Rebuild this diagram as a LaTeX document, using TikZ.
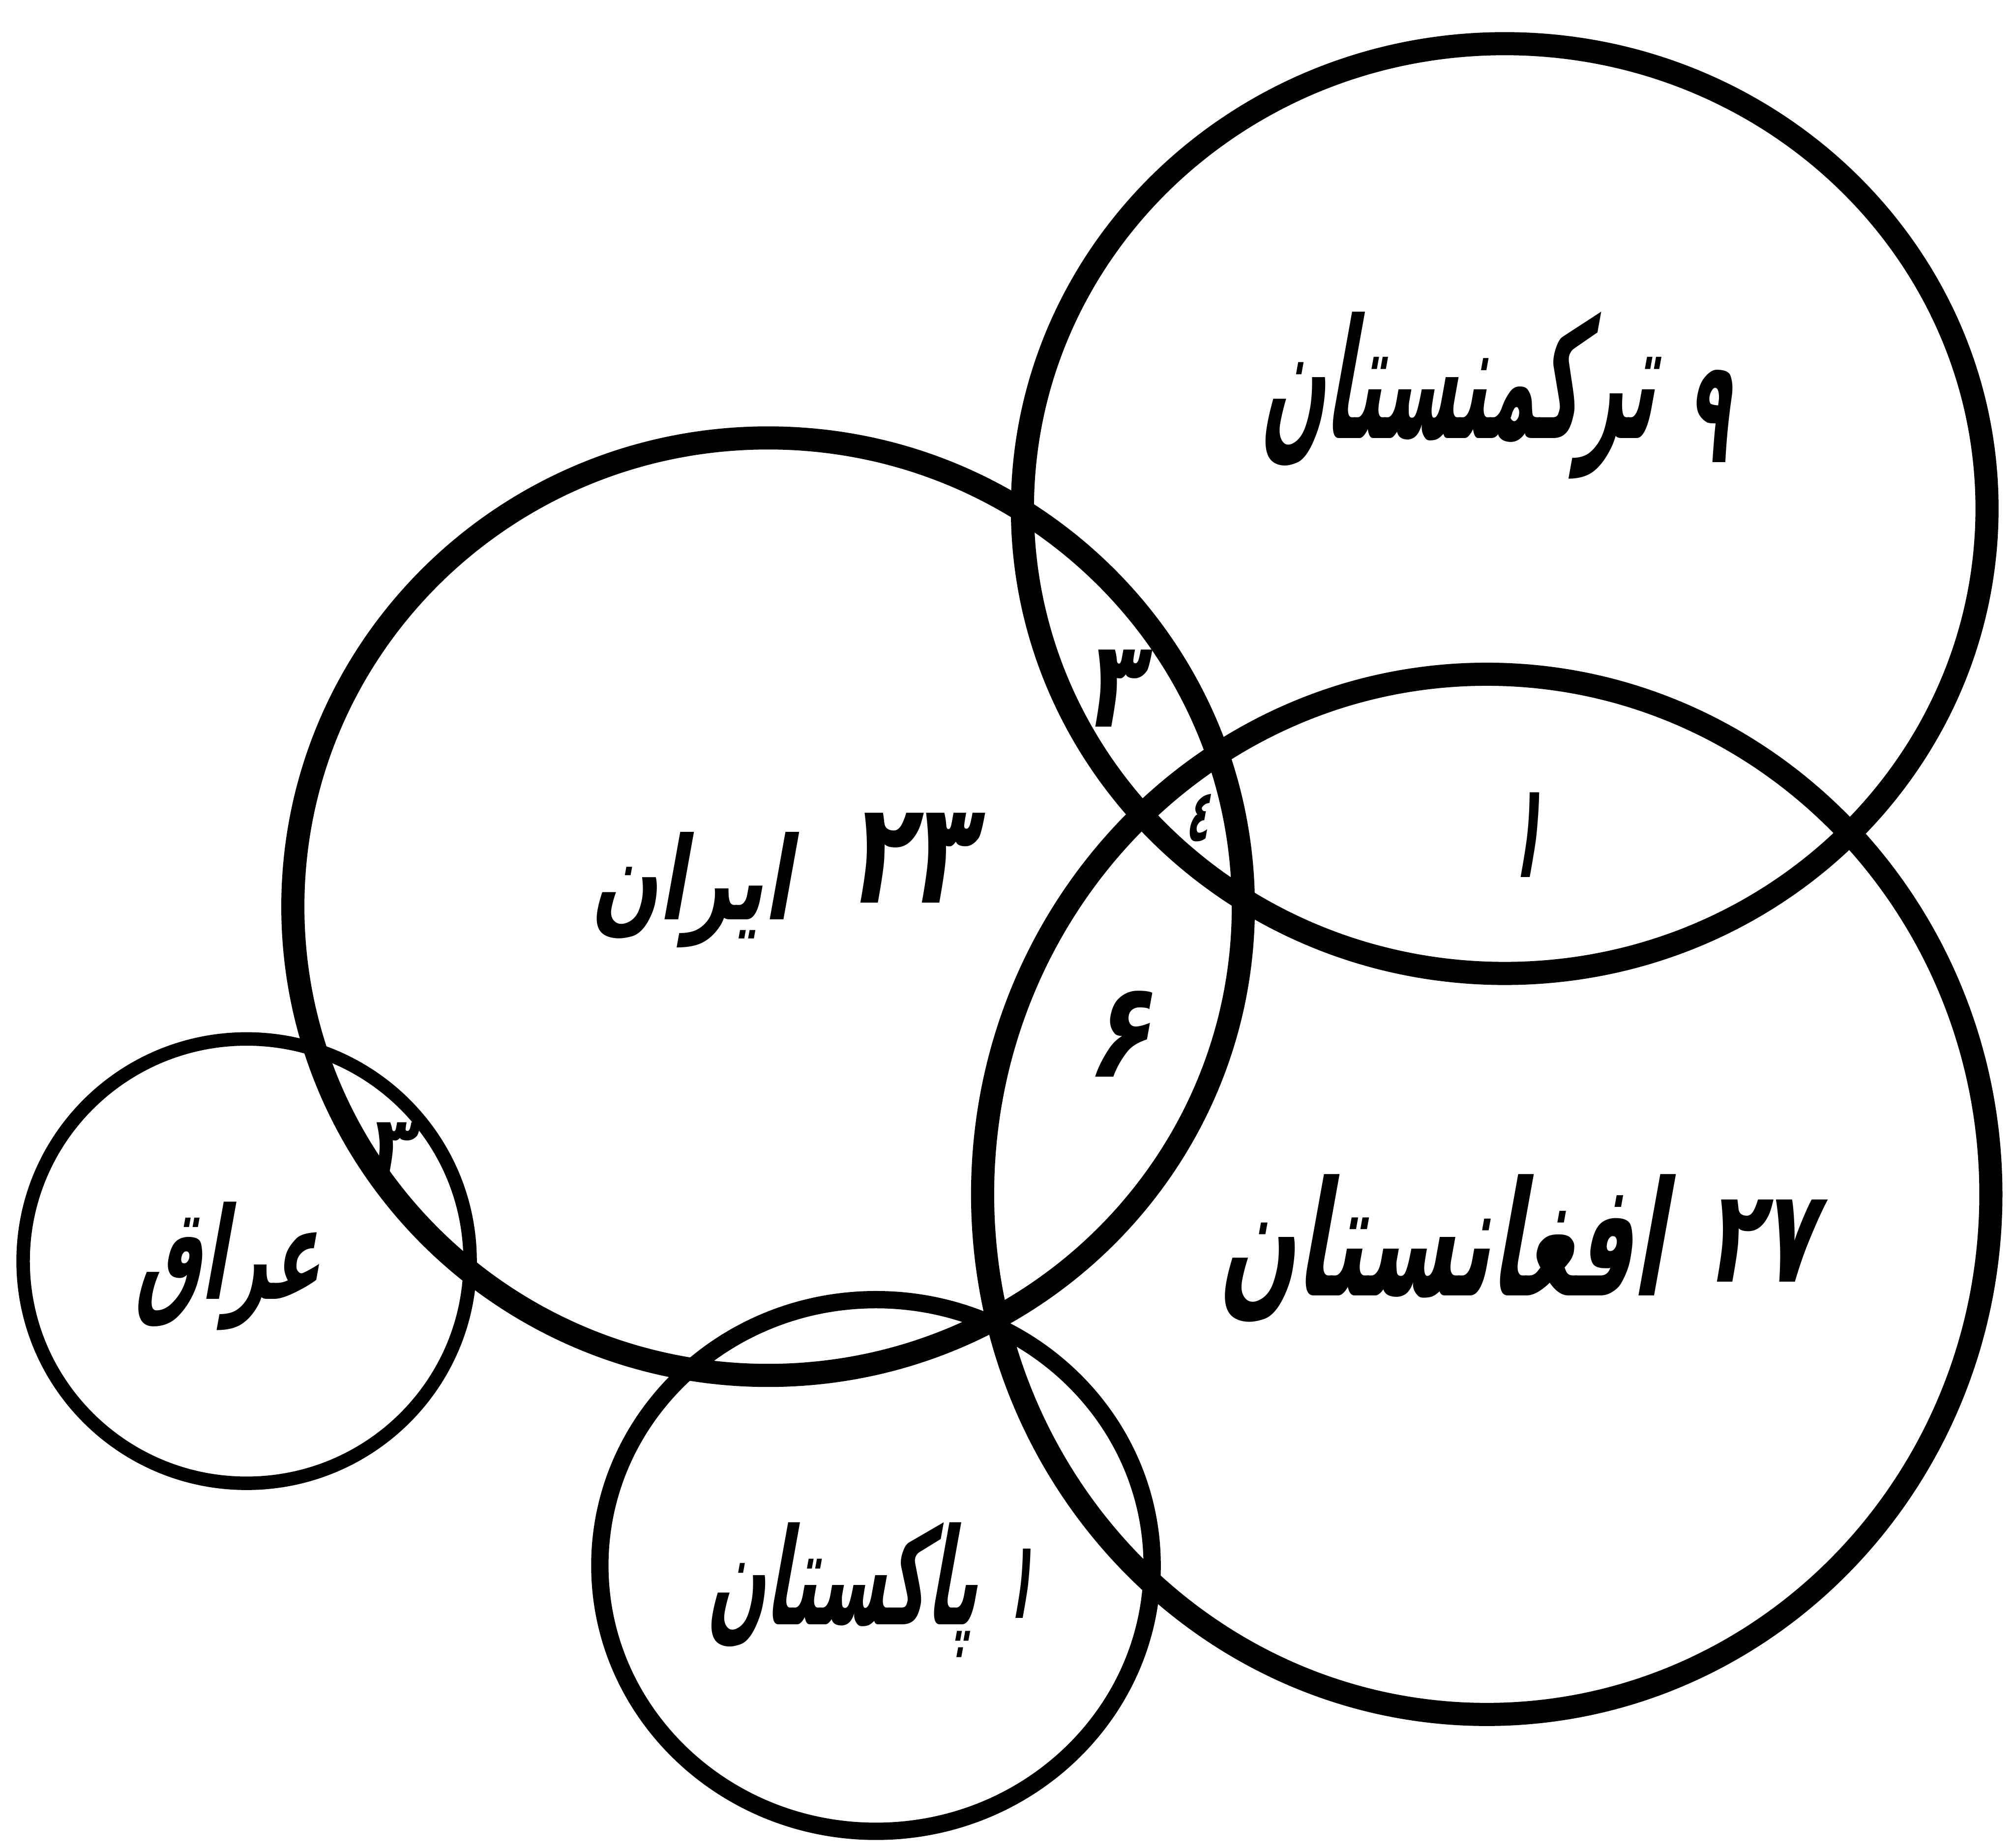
\documentclass[tikz,border=0pt]{standalone}
\usepackage{fontspec}
\usepackage{graphicx}
\newfontfamily\fa[Script=Arabic]{DejaVu Sans}
\TeXXeTstate=1
% name label: width, total height (mm), text
\newcommand{\nm}[3]{\resizebox*{#1mm}{#2mm}{\fa\bfseries\beginR #3\endR}}
% number label: width, height (mm), digits
\newcommand{\nb}[3]{\resizebox*{#1mm}{#2mm}{\fa\bfseries #3}}
\begin{document}
\begin{tikzpicture}[x=0.1mm,y=-0.1mm,
  bigring/.style={draw=black,line width=1.8mm},
  pakring/.style={draw=black,line width=1.35mm},
  iraqring/.style={draw=black,line width=1.05mm},
  lbl/.style={inner sep=0pt,outer sep=0pt,xslant=0.18}]
\useasboundingbox[fill=white] (0,0) rectangle (1568,1439);
% circles
\draw[bigring] (1171.5,396) ellipse [x radius=375.5, y radius=362];   % Turkmenistan
\draw[bigring] (598,706) ellipse [x radius=370, y radius=365];        % Iran
\draw[bigring] (1157.5,930) ellipse [x radius=392.5, y radius=405];   % Afghanistan
\draw[iraqring] (192,982) ellipse [x radius=174, y radius=173];       % Iraq
\draw[pakring] (682,1219) ellipse [x radius=215, y radius=207];       % Pakistan
% names
\node[lbl] (turkname) at (1140,308) {\nm{30.5}{13}{ترکمنستان}};
\node[lbl] (iranname) at (542,693) {\nm{15.5}{9}{ایران}};
\node[lbl] (afgname) at (1128,972) {\nm{34.5}{11.5}{افغانستان}};
\node[lbl] (pakname) at (660,1238) {\nm{21}{10.5}{پاکستان}};
\node[lbl] (iraqname) at (182,986) {\nm{14.4}{10}{عراق}};
% numbers
\node[lbl] (turknum) at (1334,324) {\nb{3.4}{7.2}{۹}};
\node[lbl] (irannum) at (714,668) {\nb{9.6}{7.0}{۲۳}};
\node[lbl] (afgnum) at (1376,966) {\nb{8.5}{6.4}{۲۷}};
\node[lbl] (paknum) at (797,1233) {\nb{2.0}{5.4}{۱}};
\node[lbl] (it) at (871,536) {\nb{4.4}{6.0}{۳}};
\node[lbl] (ita) at (935,637) {\nb{1.8}{3.7}{٤}};
\node[lbl] (ia) at (877,805) {\nb{5.0}{6.7}{۶}};
\node[lbl] (ta) at (1192,650) {\nb{2.5}{6.6}{۱}};
\node[lbl] (iq) at (307,893) {\nb{3.6}{3.8}{۳}};
\end{tikzpicture}
\end{document}
